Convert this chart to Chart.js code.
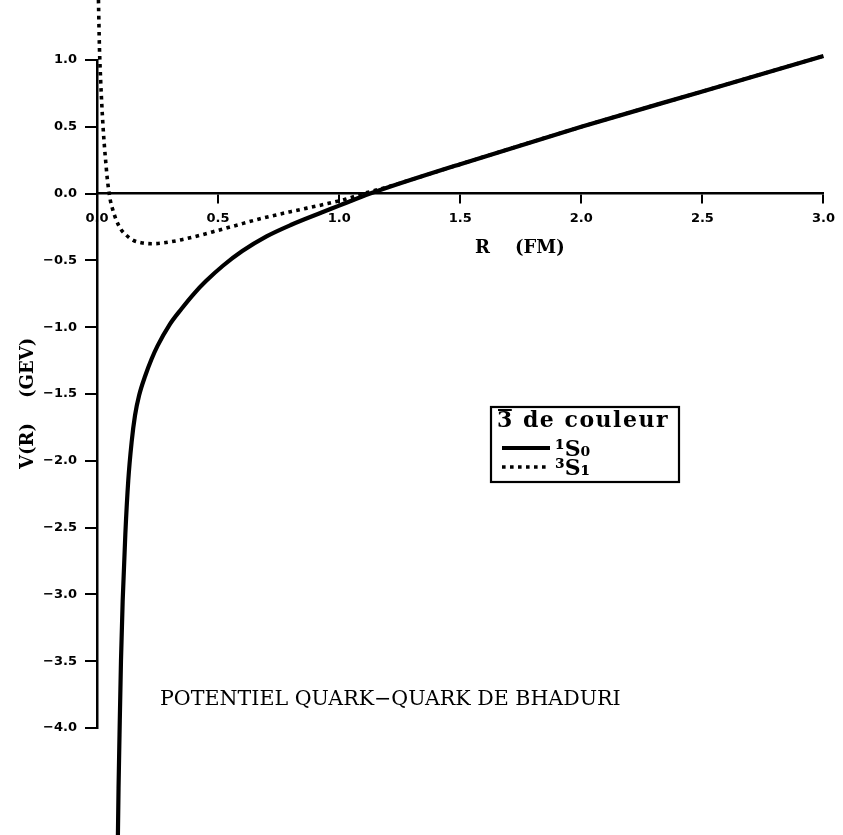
<!DOCTYPE html>
<html>
<head>
<meta charset="utf-8">
<script src="https://cdn.jsdelivr.net/npm/chart.js@4.4.1/dist/chart.umd.min.js"></script>
<style>
html,body{margin:0;padding:0;background:#fff;}
#wrap{position:relative;width:843px;height:835px;}
</style>
</head>
<body>
<div id="wrap"><canvas id="c" width="843" height="835"></canvas></div>
<script>
// ---- data ----
const singletR = [0.086, 0.089, 0.093, 0.099, 0.106, 0.117, 0.129, 0.143, 0.157, 0.174, 0.200, 0.225, 0.250, 0.300, 0.350, 0.400, 0.450, 0.520, 0.600, 0.700, 0.800, 0.930, 1.000, 1.090, 1.200, 1.500, 2.000, 2.500, 3.000];
const singletV = [-4.85, -4.45, -4.05, -3.50, -3.05, -2.55, -2.15, -1.86, -1.66, -1.51, -1.36, -1.24, -1.14, -0.98, -0.86, -0.75, -0.655, -0.54, -0.43, -0.32, -0.235, -0.14, -0.09, -0.025, 0.045, 0.22, 0.50, 0.765, 1.03];
const tripletR = [0.006, 0.010, 0.015, 0.020, 0.025, 0.030, 0.036, 0.042, 0.048, 0.055, 0.065, 0.080, 0.100, 0.120, 0.150, 0.190, 0.230, 0.270, 0.350, 0.430, 0.500, 0.570, 0.670, 0.800, 0.940, 1.020, 1.100, 1.200, 1.500, 2.000, 2.500, 3.000];
const tripletV = [1.45, 1.10, 0.85, 0.66, 0.50, 0.37, 0.24, 0.12, 0.03, -0.05, -0.12, -0.20, -0.27, -0.31, -0.35, -0.37, -0.375, -0.37, -0.345, -0.31, -0.275, -0.24, -0.19, -0.135, -0.08, -0.045, 0.0, 0.05, 0.22, 0.50, 0.765, 1.03];
const xTickValues = [0, 0.5, 1, 1.5, 2, 2.5, 3];
const xTickLabels = ['0.0', '0.5', '1.0', '1.5', '2.0', '2.5', '3.0'];
const yTickValues = [1, 0.5, 0, -0.5, -1, -1.5, -2, -2.5, -3, -3.5, -4];
const yTickLabels = ['1.0', '0.5', '0.0', '\u22120.5', '\u22121.0', '\u22121.5', '\u22122.0', '\u22122.5', '\u22123.0', '\u22123.5', '\u22124.0'];
const seriesLabels = ['\u00B9S\u2080', '\u00B3S\u2081'];
const legendDigit = '3';
const legendRest = ' de couleur';
const chartTitle = 'POTENTIEL QUARK\u2212QUARK DE BHADURI';
const xTitle = '                   R    (FM)';
const yTitle = 'V(R)    (GEV)\u00A0\u00A0\u00A0';

function lookup(values, labels, v) {
  for (let i = 0; i < values.length; i++) {
    if (Math.abs(values[i] - v) < 1e-6) return labels[i];
  }
  return '';
}

const overlay = {
  id: 'overlay',
  afterDraw(chart) {
    const ctx = chart.ctx;
    ctx.save();
    ctx.fillStyle = '#000';
    ctx.strokeStyle = '#000';
    ctx.textBaseline = 'middle';
    ctx.textAlign = 'left';
    ctx.font = '20.6px "DejaVu Serif"';
    ctx.fillText(chartTitle, 160, 700);
    // legend box
    ctx.lineWidth = 2.2;
    ctx.strokeRect(491, 407, 188, 75);
    ctx.font = 'bold 22px "DejaVu Serif"';
    if ('letterSpacing' in ctx) ctx.letterSpacing = '1.5px';
    ctx.fillText(legendDigit, 497, 421);
    const dw = ctx.measureText(legendDigit).width;
    ctx.fillText(legendRest, 497 + dw, 421);
    if ('letterSpacing' in ctx) ctx.letterSpacing = '0px';
    ctx.lineWidth = 2;
    ctx.beginPath();
    ctx.moveTo(498, 410);
    ctx.lineTo(497 + dw - 2, 410);
    ctx.stroke();
    chart.data.datasets.forEach((ds, i) => {
      const y = 448 + i * 19;
      ctx.beginPath();
      ctx.lineWidth = ds.borderWidth;
      ctx.setLineDash(ds.borderDash || []);
      ctx.moveTo(502, y);
      ctx.lineTo(550, y);
      ctx.stroke();
      ctx.setLineDash([]);
      ctx.font = 'bold 22px "DejaVu Serif"';
      ctx.fillText(ds.label, 555, y + 2);
    });
    ctx.restore();
  }
};

const tickFont = {family: '"DejaVu Sans"', size: 13, weight: 'bold'};

new Chart(document.getElementById('c'), {
  type: 'line',
  data: {
    datasets: [
      {
        label: seriesLabels[0],
        data: singletR.map((r, i) => ({x: r, y: singletV[i]})),
        borderColor: '#000',
        borderWidth: 4.2,
        pointRadius: 0,
        cubicInterpolationMode: 'monotone',
        clip: false,
        fill: false
      },
      {
        label: seriesLabels[1],
        data: tripletR.map((r, i) => ({x: r, y: tripletV[i]})),
        borderColor: '#000',
        borderWidth: 3.6,
        borderDash: [3.6, 4.4],
        pointRadius: 0,
        cubicInterpolationMode: 'monotone',
        clip: false,
        fill: false
      }
    ]
  },
  options: {
    responsive: false,
    animation: false,
    layout: {padding: {left: 0, right: 13, top: 60, bottom: 107}},
    plugins: {legend: {display: false}, tooltip: {enabled: false}, title: {display: false}},
    scales: {
      x: {
        type: 'linear',
        position: {y: 0},
        min: 0, max: 3,
        afterBuildTicks(scale) { scale.ticks = xTickValues.map(v => ({value: v})); },
        ticks: {
          callback: v => lookup(xTickValues, xTickLabels, v),
          font: tickFont, color: '#000', padding: 8, maxRotation: 0, autoSkip: false
        },
        grid: {drawOnChartArea: false, drawTicks: true, tickLength: 9, color: '#000', lineWidth: 2},
        border: {display: true, color: '#000', width: 2.5},
        title: {display: true, text: xTitle, color: '#000', font: {family: '"DejaVu Serif"', size: 18, weight: 'bold'}, padding: {top: 3, bottom: 0}}
      },
      y: {
        type: 'linear',
        position: 'left',
        min: -4, max: 1,
        afterBuildTicks(scale) { scale.ticks = yTickValues.map(v => ({value: v})); },
        afterFit(scale) { scale.width = 97; },
        ticks: {
          callback: v => lookup(yTickValues, yTickLabels, v),
          font: tickFont, color: '#000', padding: 8, autoSkip: false
        },
        grid: {drawOnChartArea: false, drawTicks: true, tickLength: 12, color: '#000', lineWidth: 2},
        border: {display: true, color: '#000', width: 2.5},
        title: {display: true, text: yTitle, color: '#000', font: {family: '"DejaVu Serif"', size: 18, weight: 'bold'}, padding: {top: 18, bottom: 0}}
      }
    }
  },
  plugins: [overlay]
});
</script>
</body>
</html>
